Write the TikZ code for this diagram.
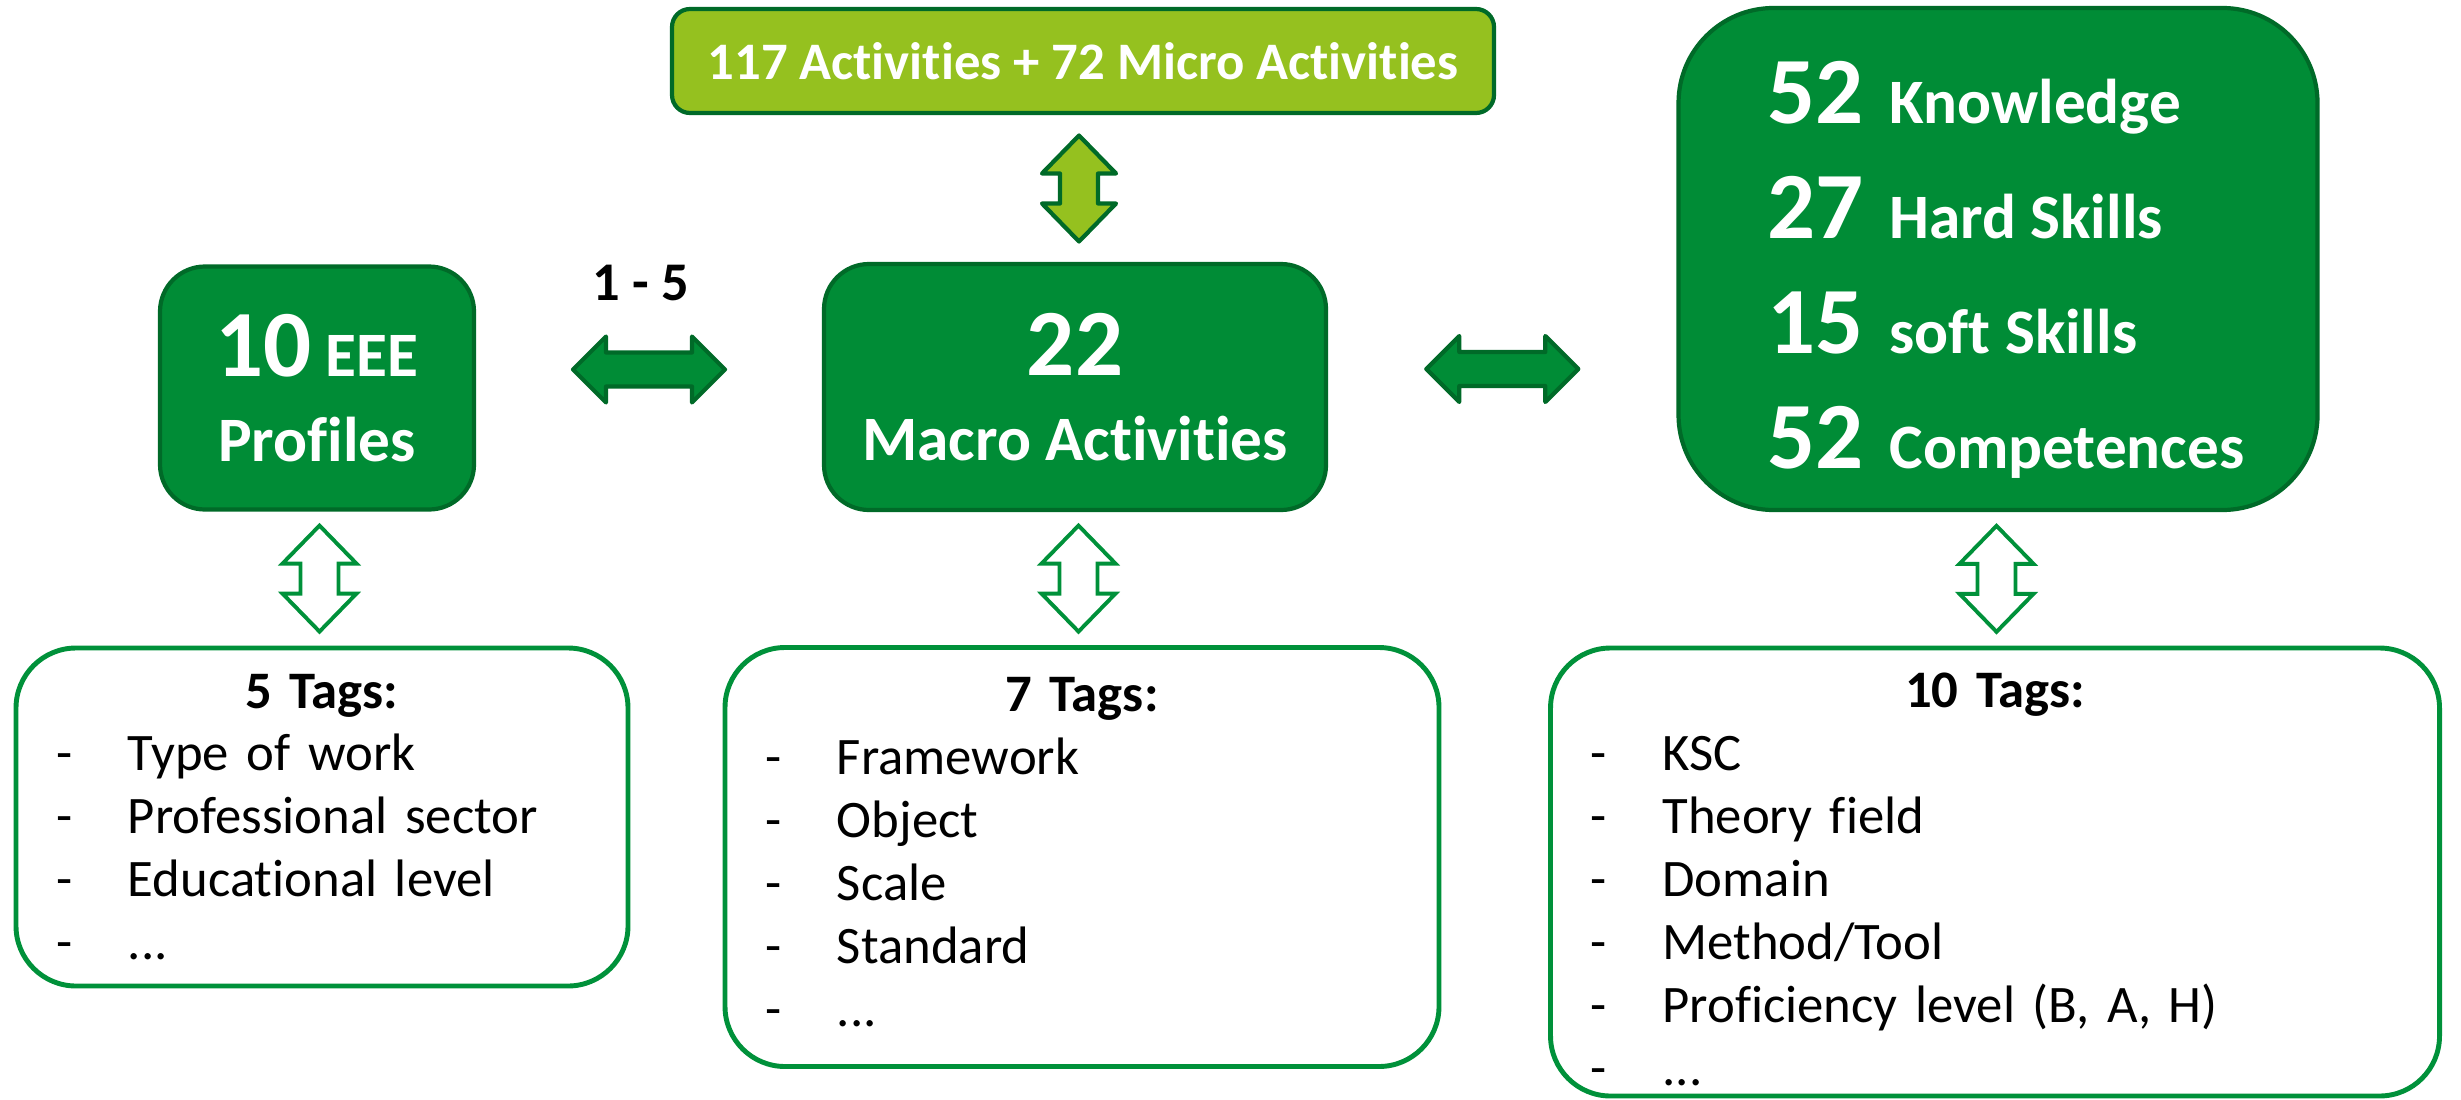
\documentclass[tikz,border=0pt]{standalone}
\usepackage{fontspec}
\setmainfont{Carlito}[RawFeature={-liga;-clig;-calt;-dlig}]
\usetikzlibrary{calc}

\definecolor{boxgreen}{RGB}{0,140,54}
\definecolor{edgegreen}{RGB}{0,106,40}
\definecolor{limegreen}{RGB}{149,193,31}
\definecolor{tagsgreen}{RGB}{0,145,58}

\newcommand{\bignum}[1]{{\fontsize{27}{27}\selectfont #1}}
\newcommand{\ksrow}[2]{\hspace*{1.6mm}\makebox[12.2mm][l]{\bignum{#1}}#2}
\newcommand{\tagline}[1]{\par\noindent\makebox[7.2mm][l]{-}#1}
\newcommand{\tagtitle}[1]{\centerline{\bfseries #1}}

% double arrows, drawn around a centre point (units of 0.1mm)
\newcommand{\harrow}[2][]{%
  \draw[fatarrow, #1] (#2) ++(-76,0) -- ++(33,-33) -- ++(0,16) -- ++(86,0) -- ++(0,-16)
    -- ++(33,33) -- ++(-33,33) -- ++(0,-16) -- ++(-86,0) -- ++(0,16) -- cycle;}
\newcommand{\varrow}[2][]{%
  \draw[fatarrow, #1] (#2) ++(0,-53) -- ++(37,38) -- ++(-18,0) -- ++(0,30) -- ++(18,0)
    -- ++(-37,38) -- ++(-37,-38) -- ++(18,0) -- ++(0,-30) -- ++(-18,0) -- cycle;}

\tikzset{
  countbox/.style={draw=edgegreen, fill=boxgreen, line width=1.2pt, text=white,
    font=\fontsize{18}{24.2}\selectfont\bfseries, align=center, inner sep=0pt},
  tagbox/.style={draw=tagsgreen, fill=white, line width=1.4pt, rounded corners=6mm, align=left,
    inner xsep=4mm, inner ysep=0pt, font=\fontsize{15}{17.9}\selectfont},
  fatarrow/.style={draw=edgegreen, fill=boxgreen, line width=1.2pt, line join=round},
  openarrow/.style={draw=tagsgreen, fill=white, line width=1.1pt, line join=miter},
}

\begin{document}
\begin{tikzpicture}[x=0.1mm, y=-0.1mm]
  \useasboundingbox (0,0) rectangle (2461,1099);

  % top row
  \node[countbox, fill=limegreen, rounded corners=1.8mm, minimum width=82.2mm, minimum height=10.4mm,
    font=\fontsize{15}{18}\selectfont\bfseries] (acts) at (1083, 61) {117 Activities + 72 Micro Activities};

  \node[countbox, rounded corners=4.5mm, minimum width=31.4mm, minimum height=24.3mm] (prof) at (317, 388)
    {\bignum{10} EEE\\Profiles};
  \node[countbox, rounded corners=4.5mm, minimum width=50.2mm, minimum height=24.6mm] (macro) at (1075, 387)
    {\bignum{22}\\Macro Activities};
  \node[countbox, rounded corners=9.5mm, minimum width=63.9mm, minimum height=50.2mm, align=left,
    font=\fontsize{18}{32.7}\selectfont\bfseries] (ksc) at (1998, 259)
    {\rule{0pt}{24pt}\ksrow{52}{Knowledge}\\
     \ksrow{27}{Hard Skills}\\
     \ksrow{15}{soft Skills}\\
     \ksrow{52}{Competences}};

  % tag boxes
  \node[tagbox, text width=53.2mm, minimum height=33.8mm] (tagsP) at (322, 817)
    {\tagtitle{5 Tags:}\tagline{Type of work}\tagline{Professional sector}\tagline{Educational level}\tagline{...}};
  \node[tagbox, text width=63.4mm, minimum height=41.9mm] (tagsM) at (1082, 857)
    {\tagtitle{7 Tags:}\tagline{Framework}\tagline{Object}\tagline{Scale}\tagline{Standard}\tagline{...\rule[-2.8pt]{0pt}{0pt}}};
  \node[tagbox, text width=80.9mm, minimum height=44.8mm] (tagsK) at (1995, 872)
    {\tagtitle{\rule{0pt}{14pt}10 Tags:}\tagline{KSC}\tagline{Theory field}\tagline{Domain}\tagline{Method/Tool}\tagline{Proficiency level (B, A, H)}\tagline{...}};

  % links
  \coordinate (pm) at ($(prof.east)!0.5!(macro.west)+(0,-18)$);
  \coordinate (mk) at ($(macro.east)!0.5!(ksc.west |- macro.west)+(0,-18)$);
  \harrow{pm}
  \harrow{mk}
  \node[font=\fontsize{15.5}{18}\selectfont\bfseries] (ratio) at ($(pm)+(-8,-87)$) {1 - 5};

  \varrow[fill=limegreen]{$(acts.south)!0.5!(macro.north)$}
  \varrow[openarrow]{$(prof.south)!0.5!(tagsP.north)$}
  \varrow[openarrow]{$(macro.south)!0.5!(tagsM.north)$}
  \varrow[openarrow]{$(ksc.south)!0.5!(tagsK.north)$}
\end{tikzpicture}
\end{document}
